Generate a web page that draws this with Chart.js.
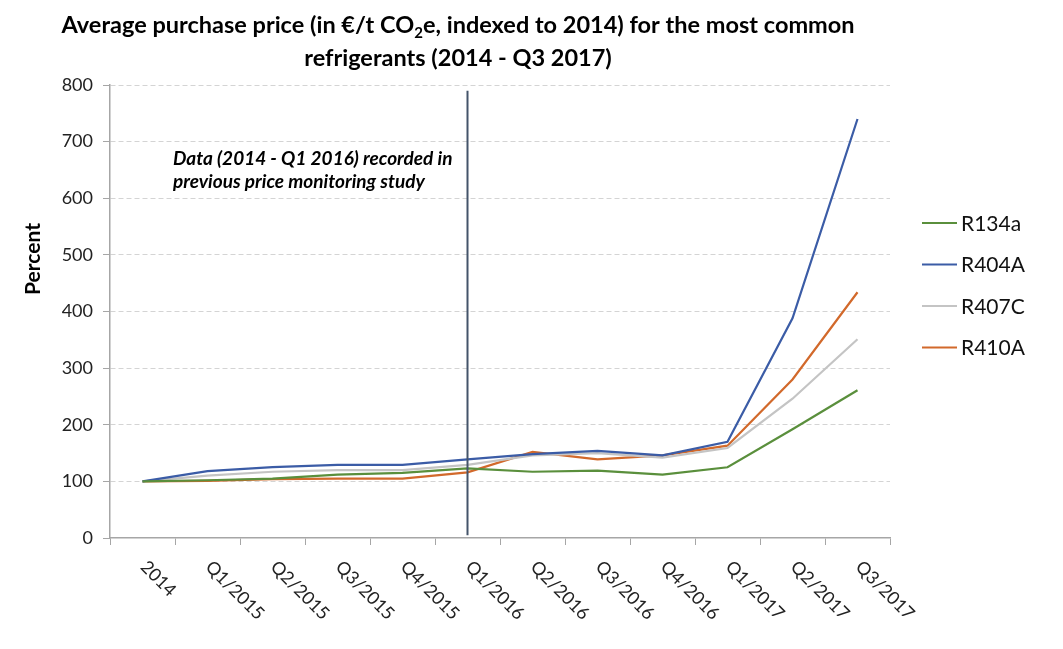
<!DOCTYPE html>
<html>
<head>
<meta charset="utf-8">
<script src="https://cdn.jsdelivr.net/npm/chart.js"></script>
<style>
  html, body { margin: 0; padding: 0; background: #fff; }
</style>
</head>
<body>
<canvas id="c" width="1063" height="649"></canvas>
<script>
// categories
const periods = ['2014', 'Q1/2015', 'Q2/2015', 'Q3/2015', 'Q4/2015', 'Q1/2016',
                 'Q2/2016', 'Q3/2016', 'Q4/2016', 'Q1/2017', 'Q2/2017', 'Q3/2017'];

// indexed price, 2014 = 100
const r134a = [100, 102, 105, 112, 115, 123, 117, 119, 112, 125, 192, 261];
const r404a = [100, 118, 125, 129, 129, 139, 148, 154, 146, 170, 388, 740];
const r407c = [100, 110, 117, 120, 120, 129, 146, 150, 142, 159, 246, 351];
const r410a = [100, 101, 104, 105, 105, 116, 152, 139, 146, 163, 280, 434];

const seriesNames = ['R134a', 'R404A', 'R407C', 'R410A'];
const seriesColors = ['#5a8f3c', '#3b5ca6', '#c4c4c4', '#d2692b'];

const yTicks = { min: 0, max: 800, step: 100 };

const titleParts = ['Average purchase price (in €/t CO', '2', 'e, indexed to 2014) for the most common'];
const titleLine2 = 'refrigerants (2014 - Q3 2017)';
const yTitle = 'Percent';
const noteLines = ['Data (2014 - Q1 2016) recorded in', 'previous price monitoring study'];
const markerIndex = 5; // Q1/2016

const FONT = 'Lato, "Open Sans", sans-serif';

// eigene Beschriftung: Titel, Achsentitel, schräge Labels, Legende, Notiz
const decorations = {
    id: 'decorations',
    afterDatasetsDraw(chart) {
        const ctx = chart.ctx;
        const x = chart.scales.x, y = chart.scales.y;
        const px = x.getPixelForValue(markerIndex);
        ctx.save();
        ctx.strokeStyle = '#44546a';
        ctx.lineWidth = 2;
        ctx.beginPath();
        ctx.moveTo(px, y.getPixelForValue(790));
        ctx.lineTo(px, y.getPixelForValue(5));
        ctx.stroke();
        ctx.restore();
    },
    afterDraw(chart) {
        const ctx = chart.ctx;
        const x = chart.scales.x;
        const area = chart.chartArea;
        ctx.save();
        ctx.fillStyle = '#000';
        ctx.textBaseline = 'alphabetic';

        // Titel mit tiefgestellter 2
        const big = 'bold 23.5px ' + FONT, small = 'bold 15px ' + FONT;
        ctx.font = big;
        const w0 = ctx.measureText(titleParts[0]).width;
        const w2 = ctx.measureText(titleParts[2]).width;
        ctx.font = small;
        const w1 = ctx.measureText(titleParts[1]).width;
        const cx = 458;
        let tx = cx - (w0 + w1 + w2) / 2;
        ctx.textAlign = 'left';
        ctx.font = big;
        ctx.fillText(titleParts[0], tx, 33);
        tx += w0;
        ctx.font = small;
        ctx.fillText(titleParts[1], tx, 38);
        tx += w1;
        ctx.font = big;
        ctx.fillText(titleParts[2], tx, 33);
        ctx.textAlign = 'center';
        ctx.fillText(titleLine2, cx, 66);

        // y-Achsentitel
        ctx.save();
        ctx.translate(33, 259);
        ctx.rotate(-Math.PI / 2);
        ctx.font = 'bold 21px ' + FONT;
        ctx.textAlign = 'center';
        ctx.textBaseline = 'middle';
        ctx.fillText(yTitle, 0, 0);
        ctx.restore();

        // x-Labels, 45° nach unten rechts
        ctx.font = '18px ' + FONT;
        ctx.fillStyle = '#222';
        ctx.textAlign = 'left';
        ctx.textBaseline = 'middle';
        periods.forEach((p, i) => {
            ctx.save();
            ctx.translate(x.getPixelForValue(i) + 1, area.bottom + 26);
            ctx.rotate(Math.PI / 4);
            ctx.fillText(p, 0, 0);
            ctx.restore();
        });

        // Notiz
        ctx.fillStyle = '#000';
        ctx.font = 'italic bold 19px ' + FONT;
        ctx.textAlign = 'left';
        ctx.textBaseline = 'alphabetic';
        ctx.fillText(noteLines[0], 173, 165);
        ctx.fillText(noteLines[1], 173, 188);

        // Legende
        ctx.font = '21px ' + FONT;
        ctx.textBaseline = 'middle';
        chart.data.datasets.forEach((ds, i) => {
            const ly = 223 + i * 41.5;
            ctx.strokeStyle = ds.borderColor;
            ctx.lineWidth = 2.2;
            ctx.beginPath();
            ctx.moveTo(922, ly);
            ctx.lineTo(957, ly);
            ctx.stroke();
            ctx.fillStyle = '#111';
            ctx.fillText(ds.label, 961, ly + 1);
        });
        ctx.restore();
    }
};

const seriesData = [r134a, r404a, r407c, r410a];

new Chart(document.getElementById('c').getContext('2d'), {
    type: 'line',
    data: {
        labels: periods,
        datasets: seriesData.map((d, i) => ({
            label: seriesNames[i],
            data: d,
            borderColor: seriesColors[i],
            backgroundColor: seriesColors[i],
            borderWidth: 2.2,
            pointRadius: 0,
            tension: 0,
            fill: false
        }))
    },
    options: {
        responsive: false,
        animation: false,
        devicePixelRatio: 1,
        layout: { padding: { left: 0, right: 173, top: 85, bottom: 0 } },
        plugins: {
            legend: { display: false },
            title: { display: false },
            tooltip: { enabled: false }
        },
        scales: {
            x: {
                offset: true,
                grid: { offset: true, drawOnChartArea: false, tickLength: 7, tickColor: '#a6a6a6' },
                border: { color: '#a6a6a6', width: 1.5 },
                ticks: { display: false },
                afterFit: s => { s.height = 111; }
            },
            y: {
                min: yTicks.min,
                max: yTicks.max,
                ticks: { stepSize: yTicks.step, padding: 10, color: '#222', font: { family: FONT, size: 18 } },
                grid: {
                    color: c => c.tick && c.tick.value === 0 ? 'transparent' : '#d4d4d4',
                    tickColor: '#a6a6a6',
                    tickLength: 7,
                    tickBorderDash: []
                },
                border: { color: '#a6a6a6', width: 1.5, dash: [5, 3] },
                afterFit: s => { s.width = 110; }
            }
        }
    },
    plugins: [decorations]
});
</script>
</body>
</html>
